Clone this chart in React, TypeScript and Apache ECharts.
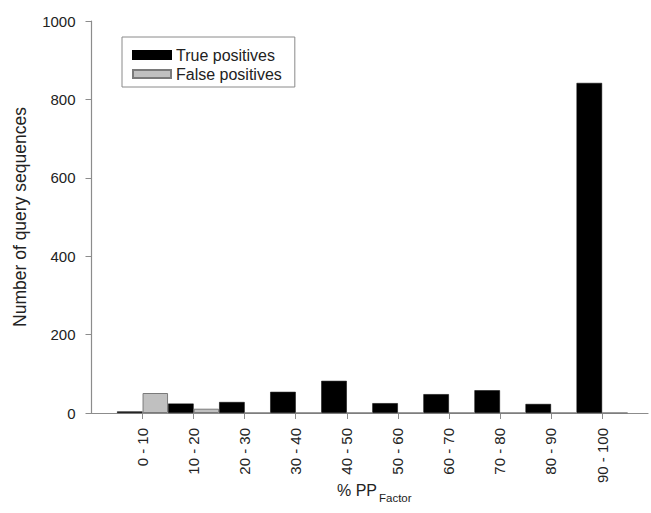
import React, { useEffect, useRef } from "react";
import * as echarts from "echarts";

const categories = ["0 - 10", "10 - 20", "20 - 30", "30 - 40", "40 - 50", "50 - 60", "60 - 70", "70 - 80", "80 - 90", "90 - 100"];
const truePositives = [4, 24, 28, 54, 82, 25, 48, 58, 23, 842];
const falsePositives = [51, 11, 0, 0, 0, 0, 0, 0, 0, 0];
const yTicks = [0, 200, 400, 600, 800, 1000];
const seriesNames = ["True positives", "False positives"];

const FONT = "'Liberation Sans', Arial, Helvetica, sans-serif";

export default function App() {
  const ref = useRef<HTMLDivElement>(null);
  useEffect(() => {
    document.body.style.margin = "0";
    const chart = echarts.init(ref.current!, null, { renderer: "svg" });
    const positions = categories.map((_, i) => i + 1);
    chart.setOption({
      animation: false,
      backgroundColor: "#ffffff",
      textStyle: { fontFamily: FONT },
      grid: { left: 91.5, right: 3, top: 21, bottom: 100, containLabel: false },
      legend: {
        orient: "vertical",
        left: 122,
        top: 37,
        padding: [10, 13, 5, 10],
        itemWidth: 38,
        itemHeight: 8,
        itemGap: 3,
        borderColor: "#8a8a8a",
        borderWidth: 1,
        borderRadius: 0,
        textStyle: { fontSize: 16, color: "#222", fontFamily: FONT },
        data: seriesNames.map((n) => ({ name: n, icon: "rect" })),
      },
      xAxis: {
        type: "value",
        min: 0,
        max: 10.9,
        interval: 1,
        splitLine: { show: false },
        axisLine: { show: true, lineStyle: { color: "#8c8c8c", width: 1.2 } },
        axisTick: { show: true, inside: false, length: 6, customValues: positions, lineStyle: { color: "#8c8c8c" } },
        axisLabel: {
          customValues: positions,
          rotate: 90,
          margin: 15,
          fontSize: 15,
          color: "#222",
          fontFamily: FONT,
          formatter: (v: number) => categories[Math.round(v) - 1] ?? "",
        },
      },
      yAxis: {
        type: "value",
        min: 0,
        max: 1000,
        interval: 200,
        splitLine: { show: false },
        axisLine: { show: true, lineStyle: { color: "#8c8c8c", width: 1.2 } },
        axisTick: { show: true, length: 6, lineStyle: { color: "#8c8c8c" } },
        axisLabel: {
          margin: 16,
          fontSize: 15,
          color: "#222",
          fontFamily: FONT,
          formatter: (v: number) => (yTicks.includes(v) ? String(v) : ""),
        },
        name: "Number of query sequences",
        nameLocation: "middle",
        nameGap: 63,
        nameTextStyle: { fontSize: 17.5, color: "#222", fontFamily: FONT },
      },
      graphic: [
        {
          type: "text",
          left: 337,
          top: 482,
          style: { text: "% PP", fontSize: 16, fill: "#222", fontFamily: FONT },
        },
        {
          type: "text",
          left: 379,
          top: 492,
          style: { text: "Factor", fontSize: 11.5, fill: "#222", fontFamily: FONT },
        },
      ],
      series: [
        {
          name: seriesNames[0],
          type: "bar",
          barWidth: 25.5,
          barGap: "0%",
          data: positions.map((p, i) => [p, truePositives[i]]),
          itemStyle: { color: "#000000", borderColor: "#000000", borderWidth: 0.5 },
        },
        {
          name: seriesNames[1],
          type: "bar",
          barWidth: 25.5,
          barGap: "0%",
          data: positions.map((p, i) => [p, falsePositives[i]]),
          itemStyle: { color: "#c0c0c0", borderColor: "#7a7a7a", borderWidth: 1 },
        },
      ],
    });
    return () => chart.dispose();
  }, []);
  return <div ref={ref} style={{ position: "absolute", left: 0, top: 0, width: 651, height: 513 }} />;
}
